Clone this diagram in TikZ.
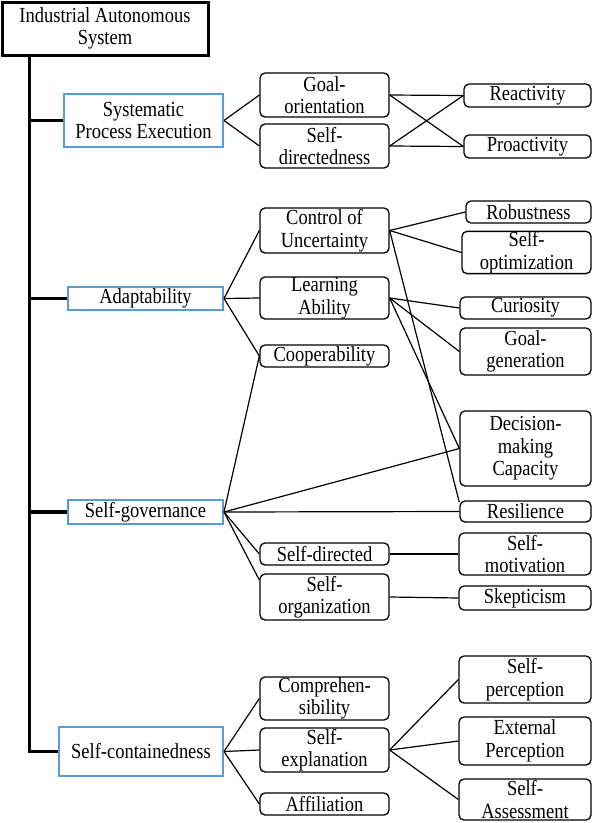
\documentclass[tikz,border=0pt]{standalone}
\usepackage{fontspec}
\setmainfont{Liberation Serif}[FakeStretch=0.86]
\definecolor{lblue}{RGB}{91,155,213}
\begin{document}
\begin{tikzpicture}[x=1pt,y=-1pt,
 base/.style={align=center, inner sep=0pt, font=\fontsize{21.5pt}{22.5pt}\selectfont},
 rbox/.style={base, draw, rounded corners=5pt, line width=1.3pt},
 bbox/.style={base, draw=lblue, line width=2pt},
 rootbox/.style={base, draw, line width=3pt},
 wh/.style 2 args={minimum width=#1, minimum height=#2},
 link/.style={line width=1.2pt},
 trunk/.style={line width=3.5pt}]
\useasboundingbox (0,0) rectangle (593,823);
% root
\node[rootbox, wh={206pt}{53pt}] (root) at (105,28.5) {Industrial Autonomous\\System};
% level 1
\node[bbox, wh={159pt}{53pt}] (SPE) at (143.5,120.5) {Systematic\\Process Execution};
\node[bbox, wh={155pt}{23pt}] (Adapt) at (145.5,298.5) {Adaptability};
\node[bbox, wh={155pt}{24pt}] (SG) at (145.5,512) {Self-governance};
\node[bbox, wh={164pt}{49pt}] (SC) at (141,751.5) {Self-containedness};
% level 2
\node[rbox, wh={129pt}{44pt}] (GO) at (324.5,95) {Goal-\\orientation};
\node[rbox, wh={129pt}{44pt}] (SD) at (324.5,146) {Self-\\directedness};
\node[rbox, wh={129pt}{45pt}] (CoU) at (324.5,230.5) {Control of\\Uncertainty};
\node[rbox, wh={129pt}{42pt}] (LA) at (324.5,298) {Learning\\Ability};
\node[rbox, wh={129pt}{22pt}] (Coop) at (324.5,356) {Cooperability};
\node[rbox, wh={129pt}{22pt}] (Sdir) at (324.5,554) {Self-directed};
\node[rbox, wh={129pt}{46pt}] (SO) at (324.5,597) {Self-\\organization};
\node[rbox, wh={129pt}{43pt}] (Comp) at (324.5,698.5) {Comprehen-\\sibility};
\node[rbox, wh={129pt}{44pt}] (SE) at (324.5,750) {Self-\\explanation};
\node[rbox, wh={129pt}{22pt}] (Aff) at (324.5,804) {Affiliation};
% level 3
\node[rbox, wh={127pt}{23pt}] (Reac) at (527.5,95.5) {Reactivity};
\node[rbox, wh={127pt}{23pt}] (Proac) at (527.5,146.5) {Proactivity};
\node[rbox, wh={125pt}{22pt}] (Rob) at (528.5,212) {Robustness};
\node[rbox, wh={129pt}{41pt}] (SOpt) at (526.5,252.5) {Self-\\optimization};
\node[rbox, wh={131pt}{22pt}] (Cur) at (525.5,308) {Curiosity};
\node[rbox, wh={131pt}{47pt}] (GG) at (525.5,351.5) {Goal-\\generation};
\node[rbox, wh={131pt}{75pt}] (DMC) at (525.5,448.5) {Decision-\\making\\Capacity};
\node[rbox, wh={131pt}{21pt}] (Res) at (525.5,511.5) {Resilience};
\node[rbox, wh={132pt}{42pt}] (SMot) at (525,554) {Self-\\motivation};
\node[rbox, wh={132pt}{24pt}] (Skep) at (525,598) {Skepticism};
\node[rbox, wh={132pt}{47pt}] (SPer) at (525,679.5) {Self-\\perception};
\node[rbox, wh={132pt}{48pt}] (ExtP) at (525,741) {External\\Perception};
\node[rbox, wh={132pt}{41pt}] (SAss) at (525,799.5) {Self-\\Assessment};
% trunk
\coordinate (T) at ([xshift=29pt]root.south west);
\draw[trunk] (T) |- (SC.west);
\draw[trunk] (SPE.west) -- (SPE.west -| T);
\draw[trunk] (Adapt.west) -- (Adapt.west -| T);
\draw[trunk] (SG.west) -- (SG.west -| T);
% links
\draw[link] (SPE.east) -- (GO.west);
\draw[link] (SPE.east) -- (SD.west);
\draw[link] (GO.east) -- (Reac.west);
\draw[link] (GO.east) -- (Proac.west);
\draw[link] (SD.east) -- (Reac.west);
\draw[link] (SD.east) -- (Proac.west);
\draw[link] (Adapt.east) -- (CoU.west);
\draw[link] (Adapt.east) -- (LA.west);
\draw[link] (Adapt.east) -- (Coop.west);
\draw[link] (CoU.east) -- (Rob.west);
\draw[link] (CoU.east) -- (SOpt.west);
\draw[link] (CoU.east) -- ([yshift=-2pt]Res.north west);
\draw[link] (LA.east) -- (Cur.west);
\draw[link] (LA.east) -- (GG.west);
\draw[link] (LA.east) -- (DMC.west);
\draw[link] (SG.east) -- (Coop.west);
\draw[link] (SG.east) -- (DMC.west);
\draw[link] (SG.east) -- (Res.west);
\draw[link] (SG.east) -- (Sdir.west);
\draw[link] (SG.east) -- ([yshift=17pt]SO.west);
\draw[link] (Sdir.east) -- (SMot.west);
\draw[link] (SO.east) -- (Skep.west);
\draw[link] (SC.east) -- (Comp.west);
\draw[link] (SC.east) -- (SE.west);
\draw[link] (SC.east) -- (Aff.west);
\draw[link] (SE.east) -- (SPer.west);
\draw[link] (SE.east) -- (ExtP.west);
\draw[link] (SE.east) -- (SAss.west);
\end{tikzpicture}
\end{document}
